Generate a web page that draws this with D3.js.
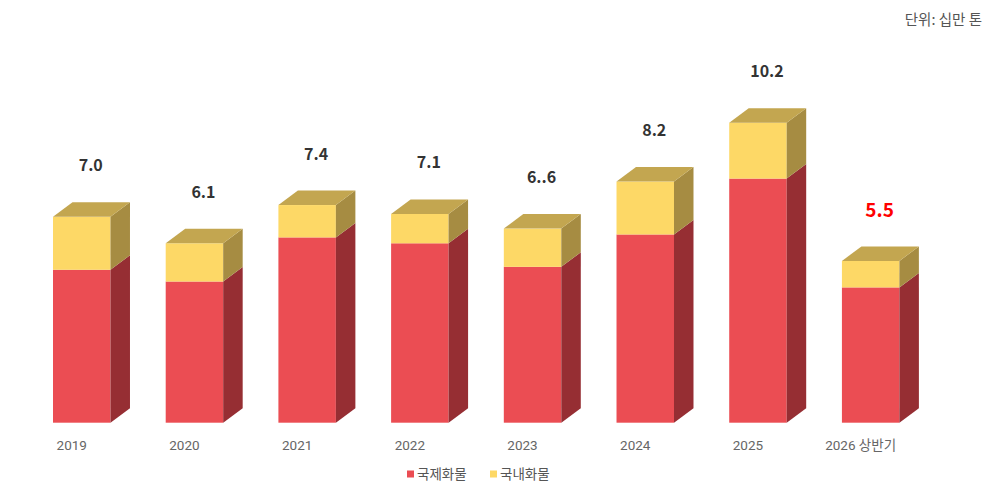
<!DOCTYPE html>
<html><head><meta charset="utf-8">
<script src="https://cdn.jsdelivr.net/npm/d3@7/dist/d3.min.js"></script>
<style>html,body{margin:0;padding:0;background:#fff;}</style>
</head><body>
<svg id="c" width="1000" height="504"></svg>
<script>
const categories = ["2019","2020","2021","2022","2023","2024","2025","2026 상반기"];
const intlValues = [5.2,4.8,6.3,6.1,5.3,6.4,8.3,4.6];
const domValues  = [1.8,1.3,1.1,1.0,1.3,1.8,1.9,0.9];
const totalLabels = ["7.0","6.1","7.4","7.1","6..6","8.2","10.2","5.5"];
const seriesNames = ["국제화물","국내화물"];

const svg = d3.select("#c");
const font = "'Noto Sans CJK KR','Noto Sans',Roboto,sans-serif";
const x = d3.scaleBand().domain(categories).range([53, 899.4]).paddingInner(0.49).paddingOuter(0);
const y = d3.scaleLinear().domain([0, 10.2]).range([422.7, 122.7]);
const dx = 19.5, dy = 14.5;
const colors = {
  red:   {front:"#EB4D53", side:"#962E33"},
  yel:   {front:"#FDD866", side:"#A68C42"},
  top: "#C3A650"
};

const data = categories.map((c,i)=>({c, a:intlValues[i], b:domValues[i], label:totalLabels[i], i}));
const w = x.bandwidth();

function drawSeg(g, x0, yBot, yTop, col){
  g.append("rect").attr("x", x0).attr("y", yTop).attr("width", w).attr("height", yBot-yTop).attr("fill", col.front);
  g.append("path").attr("d", `M${x0+w},${yBot} L${x0+w+dx},${yBot-dy} L${x0+w+dx},${yTop-dy} L${x0+w},${yTop} Z`).attr("fill", col.side);
}

data.forEach(d=>{
  const g = svg.append("g");
  const x0 = x(d.c);
  const y0 = y(0), y1 = y(d.a), y2 = y(d.a + d.b);
  drawSeg(g, x0, y0, y1, colors.red);
  drawSeg(g, x0, y1, y2, colors.yel);
  g.append("path").attr("d", `M${x0},${y2} L${x0+dx},${y2-dy} L${x0+w+dx},${y2-dy} L${x0+w},${y2} Z`).attr("fill", colors.top);
  const last = d.i === data.length-1;
  svg.append("text").attr("x", x0 + w/2 + 9).attr("y", y2 - 51).attr("dy","0.35em")
    .attr("text-anchor","middle").attr("font-family", font).attr("font-weight","bold")
    .attr("font-size", last ? 19 : 16).attr("fill", last ? "#FF0000" : "#333")
    .text(d.label);
  svg.append("text").attr("x", x0 + w/2 - 10).attr("y", 450)
    .attr("text-anchor","middle").attr("font-family", "Roboto,'Noto Sans CJK KR',sans-serif")
    .attr("font-size", 13.5).attr("fill", "#666").text(d.c);
});

svg.append("text").attr("x", 982).attr("y", 25).attr("text-anchor","end")
  .attr("font-family", font).attr("font-size", 14.5).attr("fill", "#555").text("단위: 십만 톤");

const leg = [{n:seriesNames[0], c:colors.red.front, x:407},{n:seriesNames[1], c:colors.yel.front, x:490}];
leg.forEach(l=>{
  svg.append("rect").attr("x", l.x).attr("y", 470.5).attr("width", 7).attr("height", 7).attr("fill", l.c);
  svg.append("text").attr("x", l.x+10).attr("y", 474).attr("dy","0.35em").attr("font-family", font)
    .attr("font-size", 13.5).attr("fill", "#555").text(l.n);
});
</script>
</body></html>
